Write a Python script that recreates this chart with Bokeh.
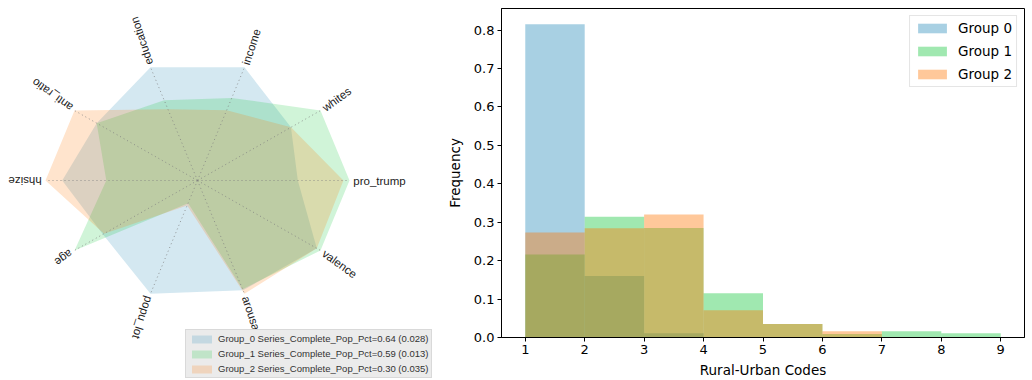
import numpy as np
from bokeh.plotting import figure
from bokeh.layouts import row, column
from bokeh.models import Range1d, Legend, LegendItem, FixedTicker, NumeralTickFormatter
from bokeh.core.properties import value
from bokeh.embed import file_html
from bokeh.resources import INLINE

# ---------------- data ----------------
axis_names = ["pro_trump", "whites", "income", "education", "anti_ratio",
              "hhsize", "age", "popu_lot", "arousal", "valence"]
radar_labels = ["Group_0 Series_Complete_Pop_Pct=0.64 (0.028)",
                "Group_1 Series_Complete_Pop_Pct=0.59 (0.013)",
                "Group_2 Series_Complete_Pop_Pct=0.30 (0.035)"]
g0_radar = [0.66, 0.76, 1.00, 1.00, 0.82, 0.89, 0.77, 1.00, 0.97, 0.97]
g1_radar = [1.00, 1.00, 0.73, 0.71, 0.82, 0.60, 1.00, 0.20, 0.96, 1.00]
g2_radar = [0.96, 0.76, 0.62, 0.63, 1.00, 1.00, 0.76, 0.22, 1.00, 0.97]

bin_edges = [1, 2, 3, 4, 5, 6, 7, 8, 9]
hist_g0 = [0.815, 0.160, 0.011, 0.0, 0.0, 0.0, 0.0, 0.0]
hist_g1 = [0.216, 0.314, 0.285, 0.115, 0.035, 0.009, 0.016, 0.011]
hist_g2 = [0.273, 0.284, 0.320, 0.071, 0.035, 0.016, 0.0, 0.0]
hist_labels = ["Group 0", "Group 1", "Group 2"]
y_ticks = [0.0, 0.1, 0.2, 0.3, 0.4, 0.5, 0.6, 0.7, 0.8]

colors = ["#268ab9", "#12c63a", "#ff7603"]

# ---------------- radar ----------------
CX, CY, RX, RY = 197.0, 180.0, 152.0, 119.0
W1, H1 = 440, 380
p1 = figure(width=W1, height=H1,
            x_range=Range1d(-CX / RX, (W1 - CX) / RX),
            y_range=Range1d((CY - H1) / RY, CY / RY),
            x_axis_location=None, y_axis_location=None,
            toolbar_location=None, output_backend="svg",
            min_border=0, outline_line_color=None)
p1.grid.visible = False

n = len(axis_names)
theta = np.arange(n) * 2 * np.pi / n
cos_t, sin_t = np.cos(theta), np.sin(theta)

items = []
for vals, col, lbl in zip([g0_radar, g1_radar, g2_radar], colors, radar_labels):
    v = np.array(vals)
    r = p1.patch(list(v * cos_t), list(v * sin_t), fill_color=col,
                 fill_alpha=0.2, line_color=None)
    items.append(LegendItem(label=lbl, renderers=[r]))

p1.multi_line(xs=[[0, c] for c in cos_t], ys=[[0, s] for s in sin_t],
              line_color="#7f7f7f", line_alpha=0.8, line_width=1,
              line_dash=value([1, 3]))

p1.text(x=list(1.025 * cos_t), y=list(1.025 * sin_t), text=axis_names,
        angle=list(theta), text_align="left", text_baseline="alphabetic",
        text_font=value("Liberation Sans"), text_font_size=value("11.5px"),
        text_color="#222222")

leg1 = Legend(items=items, location=(185, 2), padding=3, spacing=4, margin=0,
              glyph_width=25, glyph_height=10, label_height=10, label_standoff=4,
              label_text_font="Liberation Sans", label_text_font_size="9.5px",
              label_text_color="#333333",
              background_fill_color="#ebebeb", background_fill_alpha=1.0,
              border_line_color="#c8c8c8", border_line_width=1)
p1.add_layout(leg1)

# ---------------- histogram ----------------
p2 = figure(width=592, height=380, x_range=Range1d(0.6, 9.4),
            y_range=Range1d(0, 0.856), toolbar_location=None,
            output_backend="svg", min_border_left=61, min_border_right=8,
            min_border_top=8, min_border_bottom=42)
p2.grid.visible = False
p2.outline_line_color = "black"
p2.outline_line_width = 1

hitems = []
for vals, col, lbl in zip([hist_g0, hist_g1, hist_g2], colors, hist_labels):
    r = p2.quad(left=bin_edges[:-1], right=bin_edges[1:], bottom=0, top=vals,
                fill_color=col, fill_alpha=0.4, line_color=None)
    hitems.append(LegendItem(label=lbl, renderers=[r]))

leg2 = Legend(items=hitems, location="top_right", margin=7, padding=4, spacing=7,
              glyph_width=36, glyph_height=12, label_height=14, label_standoff=8,
              label_text_font="DejaVu Sans", label_text_font_size="13.5px",
              label_text_color="black", background_fill_color="white",
              border_line_color="#cccccc", border_line_width=1)
p2.add_layout(leg2)

p2.xaxis.ticker = FixedTicker(ticks=bin_edges)
p2.yaxis.ticker = FixedTicker(ticks=y_ticks)
p2.yaxis.formatter = NumeralTickFormatter(format="0.0")
p2.xaxis.axis_label = "Rural-Urban Codes"
p2.yaxis.axis_label = "Frequency"
for ax in [p2.xaxis, p2.yaxis]:
    ax.minor_tick_line_color = None
    ax.major_tick_in = 0
    ax.major_tick_out = 4
    ax.major_tick_line_color = "black"
    ax.axis_line_color = "black"
    ax.major_label_text_font = "DejaVu Sans"
    ax.major_label_text_font_size = "13px"
    ax.major_label_text_color = "black"
    ax.axis_label_text_font = "DejaVu Sans"
    ax.axis_label_text_font_size = "13.5px"
    ax.axis_label_text_font_style = "normal"
    ax.axis_label_text_color = "black"
    ax.major_label_standoff = 3
p2.xaxis.axis_label_standoff = 5
p2.yaxis.axis_label_standoff = 8

layout = row(column(p1), column(p2))
open("out.html", "w").write(file_html(layout, INLINE))
